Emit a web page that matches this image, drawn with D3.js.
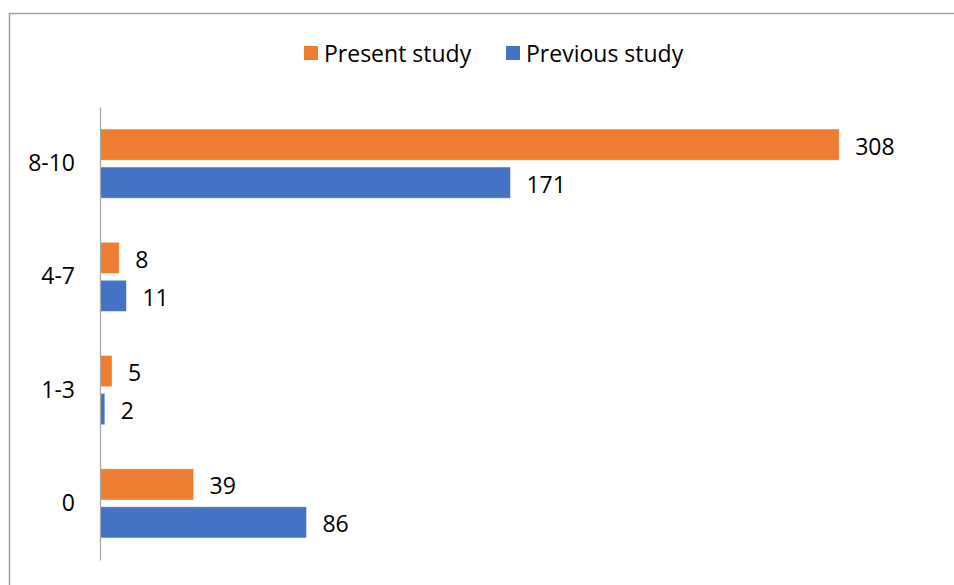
<!DOCTYPE html>
<html>
<head>
<meta charset="utf-8">
<script src="https://cdn.jsdelivr.net/npm/d3@7"></script>
<style>
  body { margin: 0; background: #fff; }
  text { font-family: "Open Sans", "Noto Sans", sans-serif; fill: #000; }
</style>
</head>
<body>
<div id="chart"></div>
<script>
// data
var categories = ["8-10", "4-7", "1-3", "0"];
var seriesNames = ["Present study", "Previous study"];
var presentValues = [308, 8, 5, 39];
var previousValues = [171, 11, 2, 86];
var seriesColors = ["#ED7D31", "#4472C4"];

var svgWidth = 954, svgHeight = 585;
var fontSize = 23;

var svg = d3.select("#chart")
    .append("svg")
    .attr("width", svgWidth)
    .attr("height", svgHeight);

// outer frame (only top + left visible in the crop)
svg.append("rect")
    .attr("x", 9.5)
    .attr("y", 13.5)
    .attr("width", 980)
    .attr("height", 620)
    .attr("fill", "none")
    .attr("stroke", "#a0a0a0")
    .attr("stroke-width", 1.5);

var rows = categories.map(function(c, i) {
    return { cat: c, values: [presentValues[i], previousValues[i]] };
});

// scales
var xScale = d3.scaleLinear()
    .domain([0, 350])
    .range([100, 940]);

var yScale = d3.scaleBand()
    .domain(categories)
    .range([107, 560])
    .paddingInner(0.39)
    .paddingOuter(0.195);

var ySub = d3.scaleBand()
    .domain(d3.range(seriesNames.length))
    .range([0, yScale.bandwidth()])
    .paddingInner(0.18);

// bars
var groups = svg.append("g")
    .selectAll("g")
    .data(rows)
    .enter()
    .append("g")
    .attr("transform", d => `translate(0, ${yScale(d.cat)})`);

groups.selectAll("rect")
    .data(d => d.values.map((v, i) => ({ v: v, i: i })))
    .enter()
    .append("rect")
    .attr("x", xScale(0))
    .attr("y", d => ySub(d.i))
    .attr("width", d => xScale(d.v) - xScale(0))
    .attr("height", ySub.bandwidth())
    .attr("fill", d => seriesColors[d.i])
    .attr("stroke", "#fff")
    .attr("stroke-opacity", 0.5)
    .attr("stroke-width", 0.75);

// value labels
groups.selectAll("text")
    .data(d => d.values.map((v, i) => ({ v: v, i: i })))
    .enter()
    .append("text")
    .attr("x", d => xScale(d.v) + 16)
    .attr("y", d => ySub(d.i) + ySub.bandwidth() / 2 + 1)
    .attr("dominant-baseline", "central")
    .attr("font-size", fontSize)
    .text(d => d.v);

// vertical axis
var leftAxis = d3.axisLeft(yScale).tickSize(0).tickPadding(25);
var yAxis = svg.append("g")
    .attr("transform", `translate(${xScale(0)}, 0)`)
    .call(leftAxis);

yAxis.select(".domain").attr("stroke", "#a6a6a6").attr("stroke-width", 1.25);
yAxis.selectAll("text")
    .attr("font-size", fontSize)
    .attr("font-family", "'Open Sans', 'Noto Sans', sans-serif")
    .attr("fill", "#000");

// legend
var legend = svg.append("g");
var legendItems = [
    { name: seriesNames[0], color: seriesColors[0], x: 304 },
    { name: seriesNames[1], color: seriesColors[1], x: 506 }
];
legendItems.forEach(function(item) {
    legend.append("rect")
        .attr("x", item.x)
        .attr("y", 46)
        .attr("width", 14)
        .attr("height", 14)
        .attr("fill", item.color);
    legend.append("text")
        .attr("x", item.x + 20)
        .attr("y", 53)
        .attr("dominant-baseline", "central")
        .attr("font-size", fontSize)
        .text(item.name);
});
</script>
</body>
</html>
